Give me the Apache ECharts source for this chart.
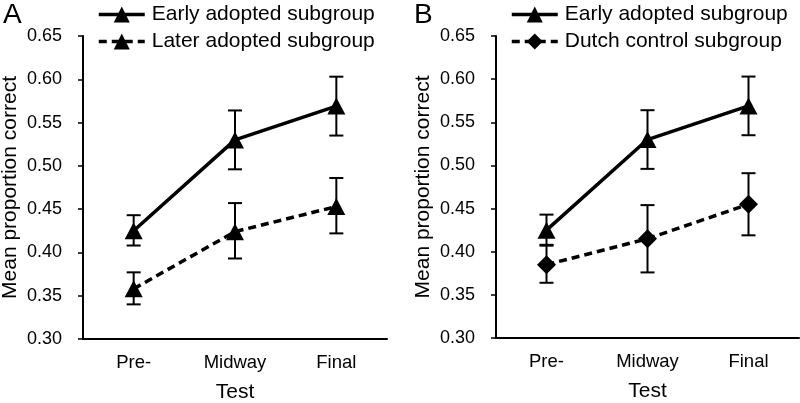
<!DOCTYPE html>
<html>
<head>
<meta charset="utf-8">
<script src="https://cdn.jsdelivr.net/npm/echarts@6/dist/echarts.min.js"></script>
<style>
  html, body { margin: 0; padding: 0; background: #fff; }
  #chart { width: 800px; height: 403px; }
</style>
</head>
<body>
<div id="chart"></div>
<script>
var categories = ['Pre-', 'Midway', 'Final'];
var yTicks = ['0.30', '0.35', '0.40', '0.45', '0.50', '0.55', '0.60', '0.65'];

// panel A + B: early adopted subgroup
var earlyMean = [0.425, 0.530, 0.569];
var earlyLow = [0.408, 0.496, 0.535];
var earlyHigh = [0.443, 0.564, 0.603];
// panel A: later adopted subgroup
var laterMean = [0.358, 0.424, 0.453];
var laterLow = [0.340, 0.393, 0.422];
var laterHigh = [0.377, 0.457, 0.486];
// panel B: dutch control subgroup
var dutchMean = [0.385, 0.415, 0.455];
var dutchLow = [0.364, 0.376, 0.419];
var dutchHigh = [0.407, 0.454, 0.491];

var font = 'Liberation Sans, Arial, sans-serif';
var chart = echarts.init(document.getElementById('chart'));

function errData(low, high) {
    var out = [];
    for (var i = 0; i < low.length; i++) {
        out.push([i, low[i], high[i]]);
    }
    return out;
}

function errSeries(idx, low, high) {
    return {
        type: 'custom',
        xAxisIndex: idx,
        yAxisIndex: idx,
        z: 1,
        silent: true,
        data: errData(low, high),
        renderItem: function(params, api) {
            var lo = api.coord([api.value(0), api.value(1)]);
            var hi = api.coord([api.value(0), api.value(2)]);
            var w = 7;
            var st = { stroke: '#000', lineWidth: 2 };
            return {
                type: 'group',
                children: [
                    { type: 'line', shape: { x1: lo[0], y1: lo[1], x2: hi[0], y2: hi[1] }, style: st },
                    { type: 'line', shape: { x1: lo[0] - w, y1: lo[1], x2: lo[0] + w, y2: lo[1] }, style: st },
                    { type: 'line', shape: { x1: hi[0] - w, y1: hi[1], x2: hi[0] + w, y2: hi[1] }, style: st }
                ]
            };
        }
    };
}

function lineSeries(idx, name, data, symbol, size, dashed) {
    return {
        name: name,
        type: 'line',
        xAxisIndex: idx,
        yAxisIndex: idx,
        z: 3,
        data: data,
        symbol: symbol,
        symbolSize: size,
        showSymbol: true,
        color: '#000',
        itemStyle: { color: '#000' },
        lineStyle: { color: '#000', width: 3.5, type: dashed ? [8, 5] : 'solid' }
    };
}

function xAxisCfg(idx) {
    return {
        type: 'category',
        gridIndex: idx,
        data: categories,
        name: 'Test',
        nameLocation: 'middle',
        nameGap: 43,
        nameTextStyle: { color: '#000', fontSize: 21, fontFamily: font },
        axisLine: { lineStyle: { color: '#000', width: 2 } },
        axisTick: { show: false },
        axisLabel: { color: '#000', fontSize: 18.5, fontFamily: font, margin: 14 },
        splitLine: { show: false }
    };
}

function yAxisCfg(idx) {
    return {
        type: 'value',
        gridIndex: idx,
        min: 0.30,
        max: 0.65,
        interval: 0.05,
        name: 'Mean proportion correct',
        nameLocation: 'middle',
        nameGap: 62,
        nameTextStyle: { color: '#000', fontSize: 21, fontFamily: font },
        axisLine: { show: true, lineStyle: { color: '#000', width: 2 } },
        axisTick: { show: true, length: 5, lineStyle: { color: '#000', width: 1.5 } },
        axisLabel: {
            color: '#000', fontSize: 18, fontFamily: font, margin: 21,
            formatter: function(v) { return yTicks[Math.round((v - 0.30) / 0.05)]; }
        },
        splitLine: { show: false }
    };
}

function legendCfg(left, names) {
    return {
        left: left,
        top: -1,
        orient: 'vertical',
        itemWidth: 46,
        itemHeight: 20,
        itemGap: 6,
        data: names,
        lineStyle: { width: 3.5 },
        textStyle: { color: '#000', fontSize: 21, fontFamily: font, padding: [0, 0, 0, 2] }
    };
}

var option = {
    animation: false,
    backgroundColor: '#fff',
    grid: [
        { left: 83, top: 36, width: 304, height: 303, outerBoundsMode: 'none' },
        { left: 496, top: 36, width: 303, height: 302, outerBoundsMode: 'none' }
    ],
    xAxis: [xAxisCfg(0), xAxisCfg(1)],
    yAxis: [yAxisCfg(0), yAxisCfg(1)],
    legend: [
        legendCfg(92, ['Early adopted subgroup', 'Later adopted subgroup']),
        legendCfg(505, ['Early adopted subgroup ', 'Dutch control subgroup'])
    ],
    graphic: [
        { type: 'text', left: 3, top: 1, style: { text: 'A', fontSize: 28, fontFamily: font, fill: '#000' } },
        { type: 'text', left: 414, top: 1, style: { text: 'B', fontSize: 28, fontFamily: font, fill: '#000' } }
    ],
    series: [
        errSeries(0, earlyLow, earlyHigh),
        errSeries(0, laterLow, laterHigh),
        lineSeries(0, 'Early adopted subgroup', earlyMean, 'triangle', [18, 17], false),
        lineSeries(0, 'Later adopted subgroup', laterMean, 'triangle', [18, 17], true),
        errSeries(1, earlyLow, earlyHigh),
        errSeries(1, dutchLow, dutchHigh),
        lineSeries(1, 'Early adopted subgroup ', earlyMean, 'triangle', [18, 17], false),
        lineSeries(1, 'Dutch control subgroup', dutchMean, 'diamond', [19, 19], true)
    ]
};

chart.setOption(option);
</script>
</body>
</html>
